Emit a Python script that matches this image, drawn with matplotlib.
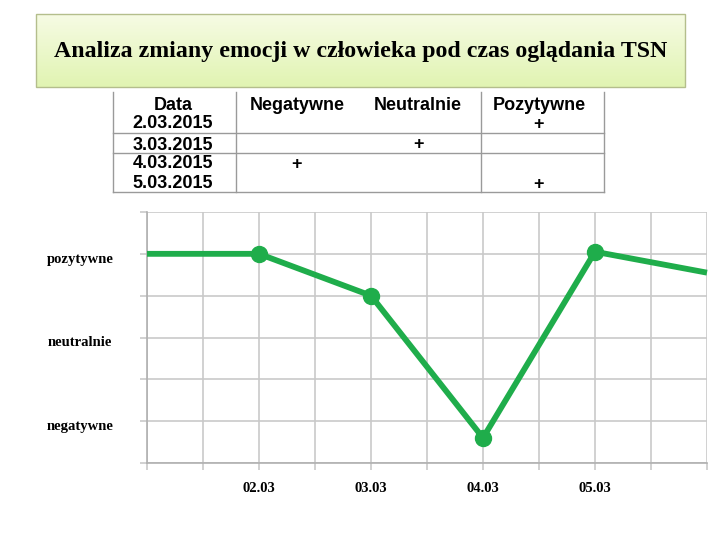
import numpy as np
import matplotlib
matplotlib.use("Agg")
import matplotlib.pyplot as plt
import matplotlib.transforms as mtransforms
from matplotlib.colors import LinearSegmentedColormap

# --- data ---
title = "Analiza zmiany emocji w człowieka pod czas oglądania TSN"

table_columns = ["Data", "Negatywne", "Neutralnie", "Pozytywne"]
table_dates = ["2.03.2015", "3.03.2015", "4.03.2015", "5.03.2015"]
table_marks = ["Pozytywne", "Neutralnie", "Negatywne", "Pozytywne"]

day_labels = ["02.03", "03.03", "04.03", "05.03"]
day_pos = [2, 3, 4, 5]
day_values = [5.0, 4.0, 0.6, 5.05]
# line continues beyond the marked points on both sides
line_x = [1, 2, 3, 4, 5, 6]
line_y = [5.0, 5.0, 4.0, 0.6, 5.05, 4.55]

mood_labels = ["negatywne", "neutralnie", "pozytywne"]
mood_pos = [1, 3, 5]

green = "#1fad4b"
grid_color = "#c9c9c9"

fig = plt.figure(figsize=(7.2, 5.4), dpi=100)

# overlay in pixel coordinates for title box and table
over = fig.add_axes([0, 0, 1, 1])
over.set_xlim(0, 720)
over.set_ylim(540, 0)
over.axis("off")

# title box with light green gradient
grad = LinearSegmentedColormap.from_list("g", ["#f6fbe4", "#e1f4b2"])
over.imshow(np.linspace(0, 1, 64).reshape(-1, 1), cmap=grad, aspect="auto",
            extent=(36, 685, 87, 14), zorder=1)
over.add_patch(plt.Rectangle((36, 14), 649, 73, fill=False,
                             edgecolor="#b4be8c", linewidth=1, zorder=2))
over.text(361, 52, title, ha="center", va="center", fontsize=17.2,
          fontweight="bold", family="Liberation Serif", zorder=3)

# table
col_x = [173, 297, 418, 539]
col_edges = [113, 236, 481, 604]
row_y = [122, 143, 162, 182]
tbl_top, tbl_bottom = 92, 192
for xe in col_edges:
    over.plot([xe, xe], [tbl_top, tbl_bottom], color="#9a9a9a", lw=1)
for ye in [133, 153, tbl_bottom]:
    over.plot([col_edges[0], col_edges[-1]], [ye, ye], color="#9a9a9a", lw=1)
tfont = dict(family="Liberation Sans", fontweight="bold", fontsize=13,
             ha="center", va="center_baseline")
for name, x in zip(table_columns, col_x):
    over.text(x, 103, name, **tfont)
for d, m, y in zip(table_dates, table_marks, row_y):
    over.text(col_x[0], y, d, **tfont)
    over.text(col_x[table_columns.index(m)], y, "+", **tfont)

# line chart
ax = fig.add_axes([147 / 720, 77 / 540, 560 / 720, 251 / 540])
ax.xaxis.remove_overlapping_locs = False
ax.yaxis.remove_overlapping_locs = False
ax.set_xlim(1, 6)
ax.set_ylim(0, 6)
ax.set_xticks(np.arange(1, 6.01, 0.5))
ax.set_xticks(day_pos, minor=True)
ax.set_xticklabels([])
ax.set_xticklabels(day_labels, minor=True)
ax.set_yticks(np.arange(0, 7))
ax.set_yticklabels([])
ax.set_yticks(mood_pos, minor=True)
ax.set_yticklabels(mood_labels, minor=True)
ax.grid(True, which="major", color=grid_color, linewidth=1.2)
ax.tick_params(axis="both", which="major", color=grid_color, length=5, width=1.2)
ax.tick_params(axis="x", which="minor", length=0, pad=14)
ax.tick_params(axis="y", which="minor", length=0, pad=48)
shift = mtransforms.ScaledTranslation(0, -4 / 100, fig.dpi_scale_trans)
for lab in ax.get_yticklabels(minor=True):
    lab.set_ha("center")
    lab.set_transform(lab.get_transform() + shift)
for lab in ax.get_xticklabels(minor=True) + ax.get_yticklabels(minor=True):
    lab.set_family("Liberation Serif")
    lab.set_fontweight("bold")
for lab in ax.get_xticklabels(minor=True):
    lab.set_fontsize(10.5)
for lab in ax.get_yticklabels(minor=True):
    lab.set_fontsize(10.5)
for side, sp in ax.spines.items():
    sp.set_visible(side in ("left", "bottom"))
    sp.set_color("#b0b0b0")
    sp.set_linewidth(1.2)

ax.plot(line_x, line_y, color=green, linewidth=4.2, solid_capstyle="butt",
        clip_on=False, zorder=3)
ax.plot(day_pos, day_values, "o", color=green, markersize=11.5, zorder=4,
        clip_on=False)

fig.savefig("out.png", dpi=100)
